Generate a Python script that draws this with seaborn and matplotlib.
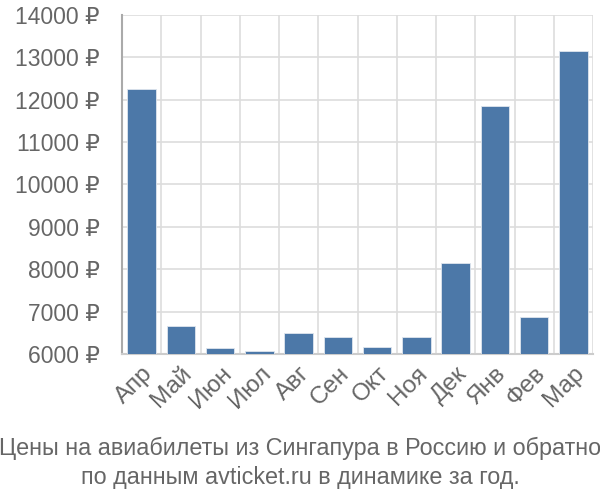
import matplotlib
matplotlib.use("Agg")
import matplotlib.pyplot as plt
import seaborn as sns
import numpy as np
import pandas as pd
from matplotlib.ticker import FixedLocator, FuncFormatter

months = ["Апр", "Май", "Июн", "Июл", "Авг", "Сен", "Окт", "Ноя", "Дек", "Янв", "Фев", "Мар"]
prices = [12250, 6670, 6130, 6060, 6500, 6390, 6170, 6410, 8150, 11850, 6880, 13160]
yticks = [6000, 7000, 8000, 9000, 10000, 11000, 12000, 13000, 14000]
title = "Цены на авиабилеты из Сингапура в Россию и обратно\nпо данным avticket.ru в динамике за год."

sns.set_style("white")
plt.rcParams['font.family'] = ['Liberation Sans', 'DejaVu Sans']

df = pd.DataFrame({"month": months, "price": prices})

fig = plt.figure(figsize=(6, 5), dpi=100)
ax = fig.add_axes([122/600, 1-354/500, (593-122)/600, (354-15)/500])

sns.barplot(data=df, x="month", y="price", color="#4c78a8", saturation=1,
            width=0.72, edgecolor="#dfe6ee", linewidth=0.6, ax=ax, zorder=3)

ax.set_ylim(6000, 14000)
ax.set_xlim(-0.5, len(months) - 0.5)
ax.yaxis.set_major_locator(FixedLocator(yticks))
ax.yaxis.set_major_formatter(FuncFormatter(lambda v, p: f"{int(v)} ₽"))
ax.set_xticks(range(len(months)))
ax.set_xticklabels(months, rotation=45, ha="right", rotation_mode="anchor")
ax.set_xticks(np.arange(-0.5, len(months), 1.0), minor=True)

grid_c = "#dddddd"
ax.grid(True, axis="y", which="major", color=grid_c, linewidth=1.2, zorder=0)
ax.grid(True, axis="x", which="minor", color=grid_c, linewidth=1.2, zorder=0)
ax.set_axisbelow(True)

ax.tick_params(axis="y", which="major", length=14, width=1.2, color=grid_c,
               labelsize=16.5, labelcolor="#666666", pad=2)
ax.tick_params(axis="x", which="major", length=0, labelsize=17.5, labelcolor="#666666", pad=6)
ax.tick_params(axis="x", which="minor", length=15, width=1.2, color=grid_c)

for s in ["top", "right"]:
    ax.spines[s].set_visible(False)
ax.spines["left"].set_color("#aaaaaa")
ax.spines["left"].set_linewidth(1.5)
ax.spines["bottom"].set_color("#cccccc")
ax.spines["bottom"].set_linewidth(1.5)
ax.set_xlabel("")
ax.set_ylabel("")

fig.text(0.5, 1-463/500, title, ha="center", va="center", fontsize=16.8,
         color="#666666", linespacing=1.32)

fig.savefig("out.png", dpi=100)
